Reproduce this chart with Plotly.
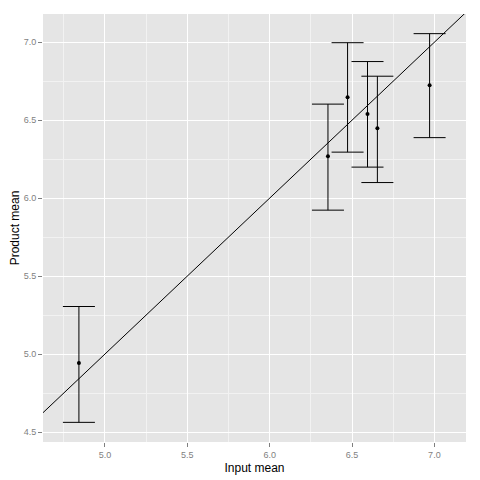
import plotly.graph_objects as go

input_mean = [4.842, 6.354, 6.473, 6.594, 6.654, 6.971]
product_mean = [4.943, 6.269, 6.647, 6.540, 6.449, 6.724]
upper = [5.305, 6.603, 6.997, 6.876, 6.782, 7.055]
lower = [4.562, 5.923, 6.295, 6.199, 6.100, 6.388]

# reference line y = a + b*x
intercept = 0.0
slope = 1.0

x_range = [4.624, 7.192]
y_range = [4.436, 7.181]
tick_vals = [4.5, 5.0, 5.5, 6.0, 6.5, 7.0]
tick_text = ["4.5", "5.0", "5.5", "6.0", "6.5", "7.0"]

err_up = [u - m for u, m in zip(upper, product_mean)]
err_down = [m - l for m, l in zip(product_mean, lower)]

fig = go.Figure()

fig.add_trace(go.Scatter(
    x=input_mean, y=product_mean,
    mode="markers",
    marker=dict(color="black", size=4, symbol="circle"),
    error_y=dict(type="data", symmetric=False, array=err_up, arrayminus=err_down,
                 color="black", thickness=1, width=16),
    showlegend=False,
))

line_x = x_range
line_y = [intercept + slope * v for v in line_x]
fig.add_trace(go.Scatter(
    x=line_x, y=line_y,
    mode="lines",
    line=dict(color="black", width=1),
    showlegend=False,
))

axis = dict(
    showline=False,
    zeroline=False,
    showgrid=True,
    gridcolor="white",
    gridwidth=1.2,
    automargin=False,
    ticks="outside",
    ticklen=4,
    tickcolor="#7F7F7F",
    tickfont=dict(family="Liberation Sans", size=9, color="#7F7F7F"),
    tickvals=tick_vals,
    ticktext=tick_text,
    minor=dict(dtick=0.25, tick0=4.25, showgrid=True, gridcolor="#F2F2F2",
               gridwidth=0.5, ticks=""),
)

# page body adds ~8px offset, margins compensate for it
fig.update_layout(
    width=480, height=480,
    paper_bgcolor="white",
    plot_bgcolor="#E5E5E5",
    margin=dict(l=35, r=22, t=6, b=46),
    font=dict(family="Liberation Sans", size=12, color="black"),
    xaxis=dict(axis, range=x_range,
               title=dict(text="Input mean", standoff=4,
                          font=dict(family="Liberation Sans", size=12, color="black"))),
    yaxis=dict(axis, range=y_range,
               title=dict(text="Product mean", standoff=4,
                          font=dict(family="Liberation Sans", size=12, color="black"))),
)

fig.write_html("out.html")
